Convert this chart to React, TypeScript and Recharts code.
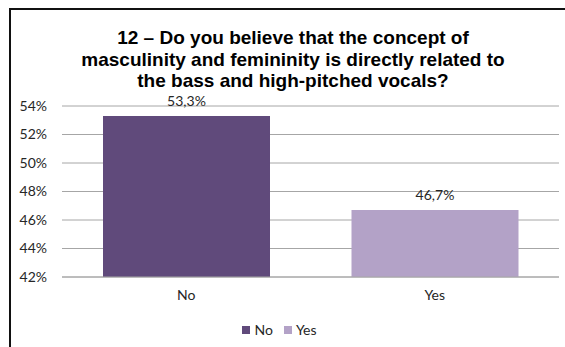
import { Bar, BarChart, CartesianGrid, Cell, LabelList, Legend, XAxis, YAxis } from 'recharts';

const answers = ['No', 'Yes'];
const shares = [53.3, 46.7];
const barColors = ['#604a7b', '#b3a2c7'];
const yTicks = [42, 44, 46, 48, 50, 52, 54];
const titleLines = [
    '12 – Do you believe that the concept of',
    'masculinity and femininity is directly related to',
    'the bass and high-pitched vocals?',
];

const data = answers.map((answer, i) => ({ answer, share: shares[i] }));

const bodyFont = 'Lato, "Open Sans", sans-serif';

function AnswerLegend() {
    return (
        <div style={{ display: 'flex', justifyContent: 'center', gap: '11px', marginTop: '4px', fontFamily: bodyFont, fontSize: '14px', color: '#262626' }}>
            {answers.map((answer, i) => (
                <div key={answer} style={{ display: 'flex', alignItems: 'center', gap: '4px' }}>
                    <span style={{ width: '8px', height: '8px', background: barColors[i], display: 'inline-block' }} />
                    <span>{answer}</span>
                </div>
            ))}
        </div>
    );
}

export default function App() {
    return (
        <div style={{ position: 'absolute', left: 0, top: 0, width: '565px', height: '347px', overflow: 'hidden', background: '#fff' }}>
            <div style={{ position: 'absolute', left: '9px', top: '8px', width: '600px', height: '400px', borderTop: '2px solid #111', borderLeft: '2px solid #111' }} />
            <div style={{ position: 'absolute', left: 0, width: '586px', top: '27px', textAlign: 'center', fontFamily: '"Liberation Sans", Arial, sans-serif', fontWeight: 'bold', fontSize: '19px', lineHeight: '21.5px', color: '#000' }}>
                {titleLines.map((line) => (
                    <div key={line}>{line}</div>
                ))}
            </div>
            <BarChart
                width={565}
                height={347}
                data={data}
                margin={{ top: 106, right: 6, left: 0, bottom: 0 }}
                barCategoryGap={41}
                style={{ position: 'absolute', left: 0, top: 0 }}
            >
                <CartesianGrid vertical={false} stroke="#a6a6a6" />
                <XAxis
                    dataKey="answer"
                    height={40}
                    axisLine={{ stroke: '#a6a6a6' }}
                    tickLine={false}
                    tickSize={0}
                    tickMargin={13}
                    tick={{ fill: '#262626', fontSize: 14, fontFamily: bodyFont }}
                />
                <YAxis
                    width={62}
                    domain={[42, 54]}
                    ticks={yTicks}
                    axisLine={false}
                    tickLine={false}
                    tickSize={0}
                    tickMargin={15}
                    tickFormatter={(v) => `${v}%`}
                    tick={{ fill: '#262626', fontSize: 14, fontFamily: bodyFont }}
                />
                <Legend verticalAlign="bottom" height={30} content={() => <AnswerLegend />} />
                <Bar dataKey="share" isAnimationActive={false}>
                    {data.map((d, i) => (
                        <Cell key={d.answer} fill={barColors[i]} />
                    ))}
                    <LabelList
                        dataKey="share"
                        position="top"
                        offset={10}
                        formatter={(v: any) => `${String(v).replace('.', ',')}%`}
                        style={{ fill: '#262626', fontSize: 14, fontFamily: bodyFont }}
                    />
                </Bar>
            </BarChart>
        </div>
    );
}
